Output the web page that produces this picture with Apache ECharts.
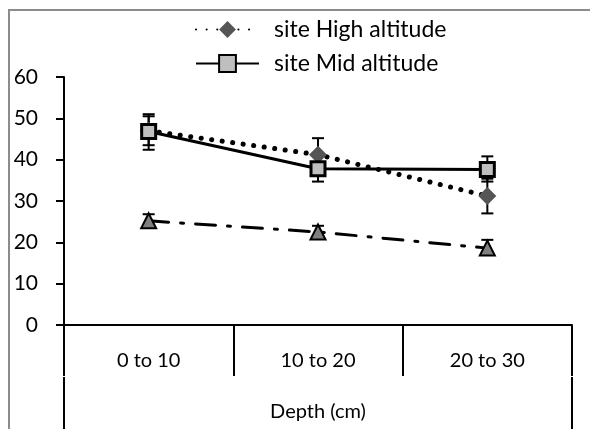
<!DOCTYPE html>
<html><head><meta charset="utf-8">
<script src="https://cdn.jsdelivr.net/npm/echarts@6/dist/echarts.min.js"></script>
<style>html,body{margin:0;padding:0;background:#fff}#c{width:590px;height:429px}</style>
</head><body><div id="c"></div>
<script>
const categories = ['0 to 10', '10 to 20', '20 to 30'];
const outerLabel = ['Depth (cm)'];
const highName = 'site High altitude';
const midName = 'site Mid altitude';
const lowName = 'site Low altitude';
const highVals = [47.0, 41.2, 31.2];
const highLower = [43.5, 37.4, 27.0];
const highUpper = [50.5, 45.2, 35.4];
const midVals = [46.8, 37.8, 37.6];
const midLower = [42.4, 34.7, 34.7];
const midUpper = [51.0, 41.0, 40.8];
const lowVals = [25.2, 22.5, 18.6];
const lowLower = [23.6, 21.0, 17.0];
const lowUpper = [26.8, 24.0, 20.6];
const yTicks = { min: 0, max: 60, interval: 10 };

const FONT = 'Lato';
function errData(lo, hi) { return lo.map((v, i) => [i, v, hi[i]]); }
function errSeries(lo, hi) {
  return {
    type: 'custom', z: 1, silent: true,
    data: errData(lo, hi),
    encode: { x: 0, y: [1, 2] },
    renderItem: function (params, api) {
      const x = api.value(0);
      const a = api.coord([x, api.value(1)]);
      const b = api.coord([x, api.value(2)]);
      const w = 6;
      const st = { stroke: '#000', lineWidth: 2 };
      return { type: 'group', children: [
        { type: 'line', shape: { x1: a[0], y1: a[1], x2: b[0], y2: b[1] }, style: st },
        { type: 'line', shape: { x1: a[0] - w, y1: a[1], x2: a[0] + w, y2: a[1] }, style: st },
        { type: 'line', shape: { x1: b[0] - w, y1: b[1], x2: b[0] + w, y2: b[1] }, style: st }
      ]};
    }
  };
}
const chart = echarts.init(document.getElementById('c'));
chart.setOption({
  animation: false,
  textStyle: { fontFamily: FONT },
  graphic: [{ type: 'rect', shape: { x: 9, y: 10, width: 620, height: 500 }, style: { fill: 'none', stroke: '#8c8c8c', lineWidth: 2 }, silent: true }],
  legend: {
    data: [highName, midName], orient: 'vertical', left: 195, top: 18,
    itemWidth: 63, itemHeight: 21, itemGap: 11, padding: 0,
    textStyle: { fontSize: 23, color: '#000', fontFamily: FONT, padding: [0, 0, 0, 10] }
  },
  grid: { left: 64, right: 18, top: 77, bottom: 104, containLabel: false },
  xAxis: [{
    type: 'category', data: categories, position: 'bottom',
    axisLine: { lineStyle: { color: '#000', width: 2 } },
    axisTick: { show: true, interval: 0, length: 51, lineStyle: { color: '#000', width: 2 } },
    axisLabel: { interval: 0, fontSize: 20, color: '#000', margin: 26, fontFamily: FONT }
  }, {
    type: 'category', data: outerLabel, position: 'bottom', offset: 52,
    axisLine: { show: false },
    axisTick: { show: true, interval: 0, length: 60, lineStyle: { color: '#000', width: 2 } },
    axisLabel: { fontSize: 20, color: '#000', margin: 25, fontFamily: FONT }
  }],
  yAxis: {
    type: 'value', min: yTicks.min, max: yTicks.max, interval: yTicks.interval,
    axisLine: { show: true, lineStyle: { color: '#000', width: 2 } },
    axisTick: { show: true, length: 8, lineStyle: { color: '#000', width: 2 } },
    splitLine: { show: false },
    axisLabel: { fontSize: 21, color: '#000', margin: 26, fontFamily: FONT }
  },
  series: [
    errSeries(highLower, highUpper),
    errSeries(midLower, midUpper),
    errSeries(lowLower, lowUpper),
    { name: highName, type: 'line', data: highVals, z: 3,
      symbol: 'diamond', symbolSize: 18,
      itemStyle: { color: '#555555', borderColor: '#555555', borderWidth: 0 },
      lineStyle: { color: '#000', width: 5, type: [0.1, 10.5], cap: 'round' } },
    { name: midName, type: 'line', data: midVals, z: 4,
      symbol: 'rect', symbolSize: 14,
      itemStyle: { color: '#bfbfbf', borderColor: '#000', borderWidth: 3 },
      lineStyle: { color: '#000', width: 3, type: 'solid' } },
    { name: lowName, type: 'line', data: lowVals, z: 4,
      symbol: 'triangle', symbolSize: 15,
      itemStyle: { color: '#808080', borderColor: '#000', borderWidth: 2 },
      lineStyle: { color: '#000', width: 3, type: [20, 12, 3, 12], cap: 'round' } }
  ]
});
</script>
</body></html>
